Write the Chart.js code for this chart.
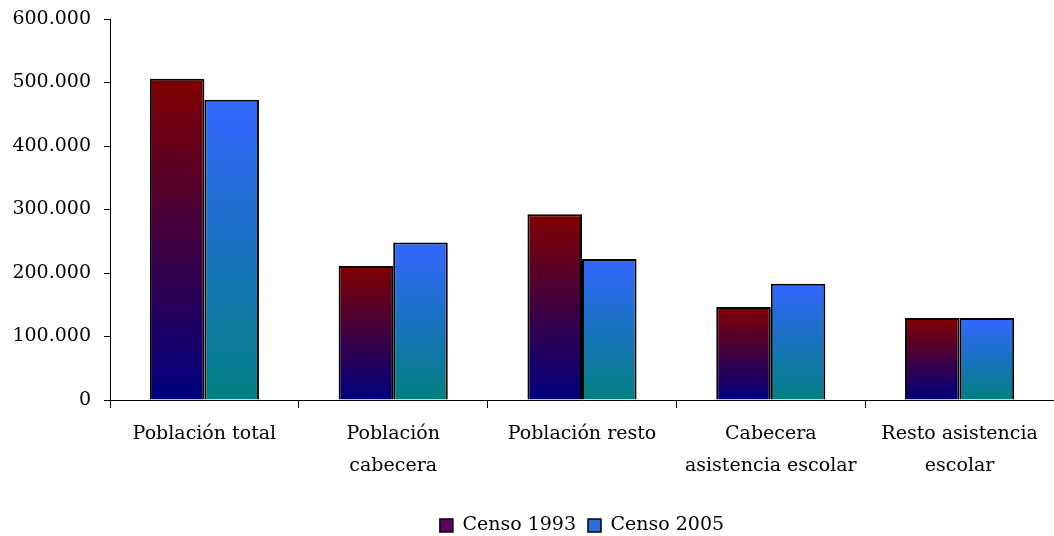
<!DOCTYPE html>
<html lang="es">
<head>
  <meta charset="UTF-8" />
  <title>Censo 1993 / Censo 2005</title>
  <script src="https://cdn.jsdelivr.net/npm/chart.js"></script>
  <style>
    html, body { margin: 0; padding: 0; background: #fff; }
    #wrap { width: 1054px; height: 536px; position: relative; }
  </style>
</head>
<body>
  <div id="wrap"><canvas id="censoChart"></canvas></div>

  <script>
    const categories = [
      'Población total',
      ['Población', 'cabecera'],
      'Población resto',
      ['Cabecera', 'asistencia escolar'],
      ['Resto asistencia', 'escolar']
    ];
    const censo1993 = [506000, 211000, 292500, 146500, 129000];
    const censo2005 = [473000, 248000, 222000, 183000, 129000];
    const yTicks = [0, 100000, 200000, 300000, 400000, 500000, 600000];

    const fmt = v => v.toString().replace(/\B(?=(\d{3})+(?!\d))/g, '.');

    // vertical gradient per bar, from its top down to the base line
    function barGradient(top, bottom) {
      return function (ctx) {
        const chart = ctx.chart;
        const y = chart.scales && chart.scales.y;
        if (!y || ctx.type !== 'data') return top;
        const y0 = y.getPixelForValue(ctx.raw);
        const y1 = y.getPixelForValue(0);
        if (!isFinite(y0) || !isFinite(y1) || y0 === y1) return top;
        const g = chart.ctx.createLinearGradient(0, y0, 0, y1);
        g.addColorStop(0, top);
        g.addColorStop(1, bottom);
        return g;
      };
    }

    const legendFill = ['#5c0060', '#2b6fd6'];
    const serif = "'DejaVu Serif', serif";

    new Chart(document.getElementById('censoChart'), {
      type: 'bar',
      data: {
        labels: categories,
        datasets: [
          {
            label: 'Censo 1993',
            data: censo1993,
            backgroundColor: barGradient('#800000', '#000080'),
            borderColor: '#000',
            borderWidth: 2,
            categoryPercentage: 0.578,
            barPercentage: 1
          },
          {
            label: 'Censo 2005',
            data: censo2005,
            backgroundColor: barGradient('#3366ff', '#008080'),
            borderColor: '#000',
            borderWidth: 2,
            categoryPercentage: 0.578,
            barPercentage: 1
          }
        ]
      },
      options: {
        responsive: true,
        maintainAspectRatio: false,
        animation: false,
        layout: { padding: { top: 19, left: 0, right: 0, bottom: -9 } },
        plugins: {
          tooltip: { enabled: false },
          legend: {
            position: 'bottom',
            fullSize: false,
            labels: {
              color: '#000',
              font: { family: serif, size: 19 },
              boxWidth: 13,
              boxHeight: 13,
              padding: 12,
              generateLabels: chart => chart.data.datasets.map((ds, i) => ({
                text: ds.label,
                fillStyle: legendFill[i],
                strokeStyle: '#000',
                lineWidth: 1.5,
                hidden: false,
                datasetIndex: i
              }))
            }
          }
        },
        scales: {
          x: {
            grid: {
              offset: true,
              drawOnChartArea: false,
              tickLength: 8,
              color: '#000'
            },
            border: { color: '#000', width: 1 },
            ticks: {
              color: '#000',
              maxRotation: 0,
              autoSkip: false,
              padding: 10,
              font: { family: serif, size: 19, lineHeight: 1.7 }
            },
            afterFit: scale => { scale.height = 104; }
          },
          y: {
            min: 0,
            max: 600000,
            afterBuildTicks: scale => { scale.ticks = yTicks.map(v => ({ value: v })); },
            grid: {
              drawOnChartArea: false,
              tickLength: 6,
              color: '#000'
            },
            border: { color: '#000', width: 1 },
            ticks: {
              color: '#000',
              padding: 13,
              font: { family: serif, size: 19 },
              callback: v => fmt(v)
            },
            afterFit: scale => {
              scale.width = 110;
              scale.paddingTop = 0;
              scale.paddingBottom = 0;
            }
          }
        }
      }
    });
  </script>
</body>
</html>
